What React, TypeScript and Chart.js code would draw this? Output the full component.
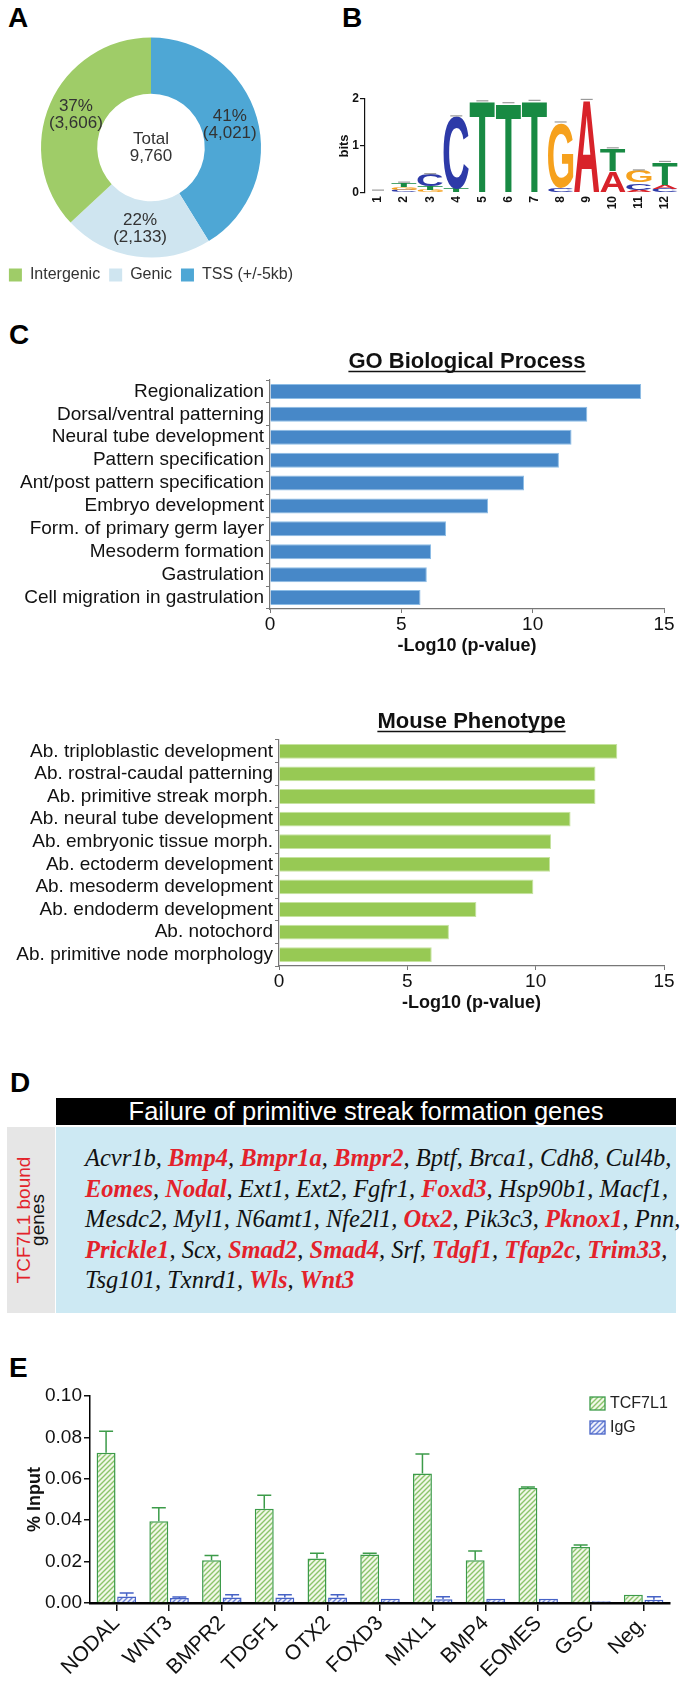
import React, { useEffect, useRef } from 'react';
import { Chart, registerables } from 'chart.js';

Chart.register(...registerables);

const FONT = '"Liberation Sans", Arial, Helvetica, sans-serif';
const SERIF = '"Liberation Serif", "Times New Roman", Times, serif';
Chart.defaults.font.family = FONT;
Chart.defaults.color = '#1a1a1a';

// ---------------- Panel A : peak distribution ----------------
const regionLabels = ['TSS (+/-5kb)', 'Genic', 'Intergenic'];
const regionCounts = [4021, 2133, 3606];
const regionPercents = [41, 22, 37];
const regionColors = ['#4ea7d5', '#cfe5f0', '#9fcc68'];
const totalPeaks = 9760;

// ---------------- Panel B : motif logo (bits) ----------------
const logoPositions = ['1', '2', '3', '4', '5', '6', '7', '8', '9', '10', '11', '12'];
const bitsA = [0.01, 0.02, 0.02, 0.0, 0.0, 0.0, 0.0, 0.01, 1.97, 0.45, 0.05, 0.09];
const bitsC = [0.01, 0.05, 0.25, 1.54, 0.0, 0.0, 0.0, 0.09, 0.0, 0.02, 0.15, 0.07];
const bitsG = [0.01, 0.06, 0.05, 0.0, 0.0, 0.0, 0.0, 1.38, 0.0, 0.0, 0.25, 0.02];
const bitsT = [0.01, 0.08, 0.07, 0.08, 1.94, 1.9, 1.95, 0.01, 0.0, 0.47, 0.02, 0.47];
const baseColors: any = { A: '#d8232a', C: '#2d3aa8', G: '#f6a11d', T: '#188a43' };

// ---------------- Panel C : enrichment ----------------
const goTerms = [
  'Regionalization',
  'Dorsal/ventral patterning',
  'Neural tube development',
  'Pattern specification',
  'Ant/post pattern specification',
  'Embryo development',
  'Form. of primary germ layer',
  'Mesoderm formation',
  'Gastrulation',
  'Cell migration in gastrulation',
];
const goScores = [14.13, 12.08, 11.48, 11.0, 9.67, 8.3, 6.7, 6.13, 5.97, 5.73];

const mpTerms = [
  'Ab. triploblastic development',
  'Ab. rostral-caudal patterning',
  'Ab. primitive streak morph.',
  'Ab. neural tube development',
  'Ab. embryonic tissue morph.',
  'Ab. ectoderm development',
  'Ab. mesoderm development',
  'Ab. endoderm development',
  'Ab. notochord',
  'Ab. primitive node morphology',
];
const mpScores = [13.18, 12.33, 12.33, 11.36, 10.6, 10.56, 9.91, 7.69, 6.62, 5.95];
const scoreTicks = [0, 5, 10, 15];

// ---------------- Panel D : gene list ----------------
const geneLines: string[][] = [
  ['Acvr1b', 'Bmp4', 'Bmpr1a', 'Bmpr2', 'Bptf', 'Brca1', 'Cdh8', 'Cul4b'],
  ['Eomes', 'Nodal', 'Ext1', 'Ext2', 'Fgfr1', 'Foxd3', 'Hsp90b1', 'Macf1'],
  ['Mesdc2', 'Myl1', 'N6amt1', 'Nfe2l1', 'Otx2', 'Pik3c3', 'Pknox1', 'Pnn'],
  ['Prickle1', 'Scx', 'Smad2', 'Smad4', 'Srf', 'Tdgf1', 'Tfap2c', 'Trim33'],
  ['Tsg101', 'Txnrd1', 'Wls', 'Wnt3'],
];
const streakGenes = [
  'Bmp4', 'Bmpr1a', 'Bmpr2', 'Eomes', 'Nodal', 'Foxd3', 'Otx2', 'Pknox1',
  'Prickle1', 'Smad2', 'Smad4', 'Tdgf1', 'Tfap2c', 'Trim33', 'Wls', 'Wnt3',
];

// ---------------- Panel E : ChIP-qPCR ----------------
const chipTargets = ['NODAL', 'WNT3', 'BMPR2', 'TDGF1', 'OTX2', 'FOXD3', 'MIXL1', 'BMP4', 'EOMES', 'GSC', 'Neg.'];
const tcfMean = [0.0726, 0.0395, 0.0206, 0.0455, 0.0215, 0.0234, 0.0626, 0.0206, 0.0555, 0.027, 0.004];
const tcfErr = [0.0104, 0.0065, 0.0023, 0.0065, 0.0025, 0.0006, 0.0094, 0.0045, 0.0005, 0.001, 0.0];
const iggMean = [0.0032, 0.0024, 0.0027, 0.0027, 0.0027, 0.002, 0.0018, 0.002, 0.002, 0.0008, 0.0016];
const iggErr = [0.0016, 0.0005, 0.0013, 0.0013, 0.0013, 0.0, 0.0012, 0.0, 0.0, 0.0, 0.0014];
const inputTicks = [0, 0.02, 0.04, 0.06, 0.08, 0.1];

// ================= plugins =================
const donutLabels = {
  id: 'donutLabels',
  afterDatasetsDraw(chart: any) {
    const ctx = chart.ctx;
    const meta = chart.getDatasetMeta(0);
    ctx.save();
    ctx.fillStyle = '#333';
    ctx.font = '17px ' + FONT;
    ctx.textAlign = 'center';
    ctx.textBaseline = 'middle';
    meta.data.forEach((arc: any, i: number) => {
      const p = arc.tooltipPosition(true);
      ctx.fillText(regionPercents[i] + '%', p.x, p.y - 8.5);
      ctx.fillText('(' + regionCounts[i].toLocaleString('en-US') + ')', p.x, p.y + 8.5);
    });
    const a0: any = meta.data[0];
    ctx.fillText('Total', a0.x, a0.y - 8.5);
    ctx.fillText(totalPeaks.toLocaleString('en-US'), a0.x, a0.y + 8.5);
    ctx.restore();
  },
};

const logoLetters = {
  id: 'logoLetters',
  afterDatasetsDraw(chart: any) {
    const ctx = chart.ctx;
    const yScale = chart.scales.y;
    ctx.save();
    ctx.font = 'bold 100px ' + FONT;
    chart.data.datasets.forEach((ds: any, di: number) => {
      const meta = chart.getDatasetMeta(di);
      meta.data.forEach((bar: any, i: number) => {
        const letter = ds.letters[i];
        const v = ds.data[i];
        if (!letter || v <= 0) return;
        const { x, y, base, width } = bar.getProps(['x', 'y', 'base', 'width'], true);
        const top = Math.min(y, base);
        const rh = Math.abs(base - y);
        if (rh < 0.4) return;
        const m = ctx.measureText(letter);
        const gw = m.actualBoundingBoxLeft + m.actualBoundingBoxRight;
        const gh = m.actualBoundingBoxAscent + m.actualBoundingBoxDescent;
        ctx.save();
        ctx.translate(x - width / 2, top);
        ctx.scale(width / gw, rh / gh);
        ctx.fillStyle = baseColors[letter];
        ctx.textAlign = 'left';
        ctx.textBaseline = 'alphabetic';
        ctx.fillText(letter, m.actualBoundingBoxLeft, m.actualBoundingBoxAscent);
        ctx.restore();
      });
    });
    const meta0 = chart.getDatasetMeta(0);
    ctx.strokeStyle = '#9a9a9a';
    ctx.lineWidth = 1.2;
    logoPositions.forEach((_, i) => {
      const sum = bitsA[i] + bitsC[i] + bitsG[i] + bitsT[i];
      const bx = meta0.data[i].x;
      const py = yScale.getPixelForValue(sum) - 1;
      ctx.beginPath();
      ctx.moveTo(bx - 6, py);
      ctx.lineTo(bx + 6, py);
      ctx.stroke();
    });
    ctx.restore();
  },
};

const titleUnderline = {
  id: 'titleUnderline',
  afterDraw(chart: any) {
    const t = chart.titleBlock;
    const opts = chart.options.plugins.title;
    if (!t || !opts.display) return;
    const ctx = chart.ctx;
    const size = opts.font.size;
    ctx.save();
    ctx.font = 'bold ' + size + 'px ' + FONT;
    const w = ctx.measureText(opts.text).width;
    const cx = (t.left + t.right) / 2;
    const cy = t.top + opts.padding.top + (size * 1.2) / 2;
    ctx.strokeStyle = '#111';
    ctx.lineWidth = 1.6;
    ctx.beginPath();
    ctx.moveTo(cx - w / 2, cy + 9.5);
    ctx.lineTo(cx + w / 2, cy + 9.5);
    ctx.stroke();
    ctx.restore();
  },
};

const errorBars = {
  id: 'errorBars',
  afterDatasetsDraw(chart: any) {
    const ctx = chart.ctx;
    const yScale = chart.scales.y;
    ctx.save();
    chart.data.datasets.forEach((ds: any, di: number) => {
      const meta = chart.getDatasetMeta(di);
      meta.data.forEach((bar: any, i: number) => {
        const e = ds.errors[i];
        if (!e) return;
        const yTop = yScale.getPixelForValue(ds.data[i] + e);
        ctx.strokeStyle = ds.borderColor;
        ctx.lineWidth = 1.5;
        ctx.beginPath();
        ctx.moveTo(bar.x, bar.y);
        ctx.lineTo(bar.x, yTop);
        ctx.moveTo(bar.x - 7, yTop);
        ctx.lineTo(bar.x + 7, yTop);
        ctx.stroke();
      });
    });
    ctx.restore();
  },
};

const chipLegend = {
  id: 'chipLegend',
  afterDraw(chart: any) {
    const ctx = chart.ctx;
    ctx.save();
    chart.data.datasets.forEach((ds: any, i: number) => {
      const x = 590;
      const y = 17 + i * 24;
      ctx.fillStyle = ds.backgroundColor;
      ctx.fillRect(x, y, 15, 13);
      ctx.strokeStyle = ds.borderColor;
      ctx.lineWidth = 1.3;
      ctx.strokeRect(x, y, 15, 13);
      ctx.fillStyle = '#222';
      ctx.font = '16px ' + FONT;
      ctx.textAlign = 'left';
      ctx.textBaseline = 'middle';
      ctx.fillText(ds.label, x + 20, y + 7);
    });
    ctx.restore();
  },
};

function hatch(ctx: CanvasRenderingContext2D, bg: string, fg: string) {
  const c = document.createElement('canvas');
  const s = 5;
  c.width = s;
  c.height = s;
  const g = c.getContext('2d') as CanvasRenderingContext2D;
  g.fillStyle = bg;
  g.fillRect(0, 0, s, s);
  g.strokeStyle = fg;
  g.lineWidth = 1.4;
  g.beginPath();
  g.moveTo(0, s);
  g.lineTo(s, 0);
  g.moveTo(-1, 1);
  g.lineTo(1, -1);
  g.moveTo(s - 1, s + 1);
  g.lineTo(s + 1, s - 1);
  g.stroke();
  return ctx.createPattern(c, 'repeat');
}

// ================= configs =================
function donutConfig() {
  return {
    type: 'doughnut',
    data: {
      labels: regionLabels,
      datasets: [{ data: regionCounts, backgroundColor: regionColors, borderWidth: 0 }],
    },
    options: {
      responsive: false,
      animation: false,
      radius: 110,
      cutout: 54,
      layout: { padding: 0 },
      plugins: {
        legend: {
          position: 'bottom',
          reverse: true,
          labels: { boxWidth: 13, boxHeight: 13, padding: 9, font: { size: 16 }, color: '#333' },
        },
        tooltip: { enabled: false },
      },
    },
    plugins: [donutLabels],
  };
}

function logoConfig() {
  const layers: any[] = [0, 1, 2, 3].map(() => ({ data: [] as number[], letters: [] as string[] }));
  logoPositions.forEach((_, i) => {
    const col = [
      { b: 'A', v: bitsA[i] },
      { b: 'C', v: bitsC[i] },
      { b: 'G', v: bitsG[i] },
      { b: 'T', v: bitsT[i] },
    ].sort((p, q) => p.v - q.v);
    col.forEach((c, k) => {
      layers[k].data.push(c.v);
      layers[k].letters.push(c.b);
    });
  });
  return {
    type: 'bar',
    data: {
      labels: logoPositions,
      datasets: layers.map((l) => ({
        data: l.data,
        letters: l.letters,
        backgroundColor: 'rgba(0,0,0,0)',
        borderWidth: 0,
        barPercentage: 0.97,
        categoryPercentage: 1,
      })),
    },
    options: {
      responsive: false,
      animation: false,
      layout: { padding: { top: 99, right: 7, left: 0, bottom: 0 } },
      plugins: { legend: { display: false }, tooltip: { enabled: false } },
      scales: {
        x: {
          stacked: true,
          grid: { display: false, drawTicks: false },
          border: { display: false },
          ticks: { minRotation: 90, maxRotation: 90, padding: 3, font: { size: 12, weight: 'bold' }, color: '#111' },
          afterFit: (s: any) => { s.height = 27; },
        },
        y: {
          stacked: true,
          min: 0,
          max: 2,
          ticks: { stepSize: 1, padding: 1, font: { size: 12, weight: 'bold' }, color: '#111' },
          grid: { drawOnChartArea: false, tickLength: 5, color: '#111', lineWidth: 1.2 },
          border: { color: '#111', width: 1.2 },
          title: { display: true, text: 'bits', font: { size: 13, weight: 'bold' }, color: '#111', padding: { top: 17, bottom: 0 } },
          afterFit: (s: any) => { s.width = 45; },
        },
      },
    },
    plugins: [logoLetters],
  };
}

function hbarConfig(labels: string[], values: number[], color: string, border: string, title: string, axisW: number) {
  return {
    type: 'bar',
    data: {
      labels,
      datasets: [{
        data: values,
        backgroundColor: color,
        borderColor: border,
        borderWidth: 1,
        barPercentage: 0.655,
        categoryPercentage: 1,
      }],
    },
    options: {
      indexAxis: 'y',
      responsive: false,
      animation: false,
      layout: { padding: { right: 21, left: 0, top: 0, bottom: 0 } },
      plugins: {
        legend: { display: false },
        tooltip: { enabled: false },
        title: {
          display: true,
          text: title,
          fullSize: false,
          font: { size: 22, weight: 'bold' },
          color: '#111',
          padding: { top: 8.8, bottom: 4.8 },
        },
      },
      scales: {
        x: {
          min: 0,
          max: 15,
          afterBuildTicks: (s: any) => { s.ticks = scoreTicks.map((v) => ({ value: v })); },
          ticks: { font: { size: 19 }, color: '#111', padding: 0 },
          grid: { drawOnChartArea: false, tickLength: 4, color: '#777' },
          border: { color: '#777', width: 1.2 },
          title: { display: true, text: '-Log10 (p-value)', font: { size: 18, weight: 'bold' }, color: '#111', padding: { top: 0, bottom: 0 } },
          afterFit: (s: any) => { s.height = 48; },
        },
        y: {
          ticks: { font: { size: 19 }, color: '#111', padding: 2, autoSkip: false },
          grid: { drawOnChartArea: false, tickLength: 4, color: '#777', offset: true },
          border: { color: '#777', width: 1.2 },
          afterFit: (s: any) => { s.width = axisW; },
        },
      },
    },
    plugins: [titleUnderline],
  };
}

function chipConfig(ctx: CanvasRenderingContext2D) {
  return {
    type: 'bar',
    data: {
      labels: chipTargets,
      datasets: [
        {
          label: 'TCF7L1',
          data: tcfMean,
          errors: tcfErr,
          backgroundColor: hatch(ctx, '#f1f8e8', '#8cc46c'),
          borderColor: '#3c9b49',
          borderWidth: 1.5,
          barPercentage: 0.92,
          categoryPercentage: 0.78,
        },
        {
          label: 'IgG',
          data: iggMean,
          errors: iggErr,
          backgroundColor: hatch(ctx, '#eef0fb', '#6d84d6'),
          borderColor: '#4662c6',
          borderWidth: 1.5,
          barPercentage: 0.92,
          categoryPercentage: 0.78,
        },
      ],
    },
    options: {
      responsive: false,
      animation: false,
      layout: { padding: { top: 16, right: 15, left: 0, bottom: 0 } },
      plugins: { legend: { display: false }, tooltip: { enabled: false } },
      scales: {
        x: {
          ticks: { minRotation: 45, maxRotation: 45, autoSkip: false, padding: 0, font: { size: 21 }, color: '#111' },
          grid: { drawOnChartArea: false, offset: false, tickLength: 8, color: '#111', lineWidth: 1.5 },
          border: { color: '#000', width: 2.5 },
          afterFit: (s: any) => { s.height = 83; },
        },
        y: {
          min: 0,
          max: 0.1,
          afterBuildTicks: (s: any) => { s.ticks = inputTicks.map((v) => ({ value: v })); },
          ticks: { padding: 2, font: { size: 19 }, color: '#111', callback: (v: any) => Number(v).toFixed(2) },
          grid: { drawOnChartArea: false, tickLength: 6, color: '#111', lineWidth: 1.5 },
          border: { color: '#000', width: 1.5 },
          title: { display: true, text: '% Input', font: { size: 18, weight: 'bold' }, color: '#111', padding: { top: 24, bottom: 0 } },
          afterFit: (s: any) => { s.width = 90; },
        },
      },
    },
    plugins: [errorBars, chipLegend],
  };
}

// ================= components =================
function ChartBox(props: { left: number; top: number; width: number; height: number; make: (ctx: CanvasRenderingContext2D) => any }) {
  const ref = useRef<HTMLCanvasElement | null>(null);
  useEffect(() => {
    const canvas = ref.current as HTMLCanvasElement;
    const ctx = canvas.getContext('2d') as CanvasRenderingContext2D;
    const chart = new Chart(canvas, props.make(ctx));
    return () => chart.destroy();
  }, []);
  return (
    <div style={{ position: 'absolute', left: props.left, top: props.top, width: props.width, height: props.height }}>
      <canvas ref={ref} width={props.width} height={props.height} style={{ display: 'block', width: props.width, height: props.height }} />
    </div>
  );
}

function PanelLetter(props: { ch: string; left: number; capTop: number }) {
  return (
    <div style={{ position: 'absolute', left: props.left, top: props.capTop - 4, fontFamily: FONT, fontWeight: 'bold', fontSize: 28, lineHeight: '28px', color: '#000' }}>
      {props.ch}
    </div>
  );
}

function GeneList() {
  const total = geneLines.reduce((n, l) => n + l.length, 0);
  let idx = 0;
  return (
    <div style={{ position: 'absolute', left: 85, top: 1143, fontFamily: SERIF, fontStyle: 'italic', fontSize: 24.5, lineHeight: '30.5px', color: '#111', whiteSpace: 'nowrap' }}>
      {geneLines.map((line, li) => (
        <div key={li}>
          {line.map((g, gi) => {
            idx += 1;
            const hot = streakGenes.indexOf(g) >= 0;
            return (
              <span key={gi}>
                <span style={hot ? { color: '#e3222b', fontWeight: 'bold' } : undefined}>{g}</span>
                {idx < total ? ', ' : ''}
              </span>
            );
          })}
        </div>
      ))}
    </div>
  );
}

export default function App() {
  return (
    <div style={{ position: 'absolute', left: 0, top: 0, width: 685, height: 1686, background: '#fff', overflow: 'hidden', fontFamily: FONT }}>
      <PanelLetter ch="A" left={8} capTop={8} />
      <PanelLetter ch="B" left={342} capTop={8} />
      <PanelLetter ch="C" left={9} capTop={325} />
      <PanelLetter ch="D" left={10} capTop={1073} />
      <PanelLetter ch="E" left={9} capTop={1358} />

      <ChartBox left={-8} top={37} width={318} height={256} make={() => donutConfig()} />
      <ChartBox left={320} top={0} width={365} height={220} make={() => logoConfig()} />
      <ChartBox left={0} top={340} width={685} height={317} make={() => hbarConfig(goTerms, goScores, '#4788c8', '#8dbde6', 'GO Biological Process', 270)} />
      <ChartBox left={0} top={700} width={685} height={314} make={() => hbarConfig(mpTerms, mpScores, '#97c954', '#c6e3a0', 'Mouse Phenotype', 279)} />

      {/* Panel D */}
      <div style={{ position: 'absolute', left: 56, top: 1098, width: 620, height: 27, background: '#000', color: '#fff', fontSize: 25.5, lineHeight: '27px', textAlign: 'center', whiteSpace: 'nowrap', overflow: 'hidden' }}>
        Failure of primitive streak formation genes
      </div>
      <div style={{ position: 'absolute', left: 7, top: 1127, width: 48, height: 186, background: '#e6e6e6' }} />
      <div style={{ position: 'absolute', left: 56, top: 1127, width: 620, height: 186, background: '#cde9f3' }} />
      <div style={{ position: 'absolute', left: 31 - 100, top: 1220 - 14, width: 200, height: 28, transform: 'rotate(-90deg)', transformOrigin: '50% 50%', fontSize: 19, lineHeight: '14px', textAlign: 'center', whiteSpace: 'nowrap' }}>
        <div style={{ color: '#e3222b' }}>TCF7L1 bound</div>
        <div style={{ color: '#111' }}>genes</div>
      </div>
      <GeneList />

      <ChartBox left={0} top={1380} width={685} height={306} make={(ctx) => chipConfig(ctx)} />
    </div>
  );
}
